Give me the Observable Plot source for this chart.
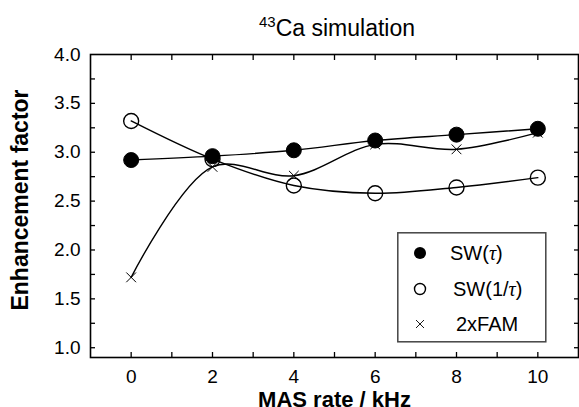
<!DOCTYPE html>
<html><head><meta charset="utf-8">
<script src="https://cdn.jsdelivr.net/npm/d3@7"></script>
<script src="https://cdn.jsdelivr.net/npm/@observablehq/plot@0.6"></script>
<style>
body{margin:0;background:#fff;font-family:"Liberation Sans",Arial,sans-serif;}
#wrap{position:relative;width:579px;height:407px;overflow:hidden;}
#chart{position:absolute;left:0;top:0;}
#title{position:absolute;left:95px;width:484px;top:13px;text-align:center;font-size:23px;color:#000;}
#title sup{font-size:15px;}
#legend{position:absolute;left:397px;top:232px;}
</style></head>
<body><div id="wrap"><div id="chart"></div><div id="title"><sup>43</sup>Ca simulation</div><div id="legend"></div></div>
<script>
const masRate = [0, 2, 4, 6, 8, 10];
const swTau = [2.92, 2.96, 3.02, 3.12, 3.18, 3.24];
const swInvTau = [3.32, 2.93, 2.66, 2.58, 2.64, 2.74];
const fam2x = [1.72, 2.85, 2.76, 3.08, 3.03, 3.20];
const xTickLabels = [0, 2, 4, 6, 8, 10];
const xMinorTicks = [0, 1, 2, 3, 4, 5, 6, 7, 8, 9, 10];
const yTickLabels = [1.0, 1.5, 2.0, 2.5, 3.0, 3.5, 4.0];
const yMinorTicks = [1.0, 1.25, 1.5, 1.75, 2.0, 2.25, 2.5, 2.75, 3.0, 3.25, 3.5, 3.75];
const seriesNames = ["SW(τ)", "SW(1/τ)", "2xFAM"];

const rows = (ys, name) => masRate.map((x, i) => ({x, y: ys[i], name}));
const dTau = rows(swTau, seriesNames[0]);
const dInv = rows(swInvTau, seriesNames[1]);
const dFam = rows(fam2x, seriesNames[2]);

const fs = 19;
const chart = Plot.plot({
  width: 579, height: 407,
  marginTop: 54, marginBottom: 50, marginLeft: 90, marginRight: 1,
  style: {fontFamily: '"Liberation Sans", Arial, sans-serif', color: "#000", background: "transparent"},
  x: {domain: [-1, 11]},
  y: {domain: [0.9, 4.0]},
  marks: [
    Plot.frame({stroke: "#000", strokeWidth: 1.6}),
    Plot.axisX(xMinorTicks, {anchor: "bottom", tickSize: -5, tickFormat: () => "", label: null, strokeWidth: 1.3}),
    Plot.axisX(xMinorTicks, {anchor: "top", tickSize: -5, tickFormat: () => "", label: null, strokeWidth: 1.3}),
    Plot.axisY(yMinorTicks, {anchor: "left", tickSize: -5, tickFormat: () => "", label: null, strokeWidth: 1.3}),
    Plot.axisY(yMinorTicks, {anchor: "right", tickSize: -5, tickFormat: () => "", label: null, strokeWidth: 1.3}),
    Plot.axisX(xTickLabels, {anchor: "bottom", tickSize: 0, tickPadding: 12, fontSize: fs, label: null}),
    Plot.axisY(yTickLabels, {anchor: "left", tickSize: 0, tickPadding: 10, fontSize: fs, label: null, tickFormat: d3.format(".1f")}),
    Plot.text(["MAS rate / kHz"], {frameAnchor: "bottom", dy: 42, lineAnchor: "middle", textAnchor: "middle", fontSize: 22, fontWeight: "bold"}),
    Plot.text(["Enhancement factor"], {frameAnchor: "left", dx: -70, dy: -6, rotate: -90, lineAnchor: "middle", textAnchor: "middle", fontSize: 23, fontWeight: "bold"}),
    Plot.line(dTau, {x: "x", y: "y", curve: "catmull-rom", stroke: "#000", strokeWidth: 1.4}),
    Plot.line(dInv, {x: "x", y: "y", curve: "catmull-rom", stroke: "#000", strokeWidth: 1.4}),
    Plot.line(dFam, {x: "x", y: "y", curve: "catmull-rom", stroke: "#000", strokeWidth: 1.4}),
    Plot.dot(dFam, {x: "x", y: "y", symbol: "times", r: 4.5, stroke: "#000", strokeWidth: 1}),
    Plot.dot(dInv, {x: "x", y: "y", symbol: "circle", r: 7.5, stroke: "#000", fill: "none", strokeWidth: 1.4}),
    Plot.dot(dTau, {x: "x", y: "y", symbol: "circle", r: 7.5, fill: "#000", stroke: "#000", strokeWidth: 1})
  ]
});
document.getElementById("chart").appendChild(chart);

// legend
const lg = d3.select("#legend").append("svg").attr("width", 150).attr("height", 112);
lg.append("rect").attr("x", 0.8).attr("y", 0.8).attr("width", 148).attr("height", 109)
  .attr("fill", "#fff").attr("stroke", "#444").attr("stroke-width", 1.5);
const rowY = [21, 57, 92];
lg.append("circle").attr("cx", 23).attr("cy", rowY[0]).attr("r", 6).attr("fill", "#000");
lg.append("circle").attr("cx", 23).attr("cy", rowY[1]).attr("r", 5.5).attr("fill", "none").attr("stroke", "#000").attr("stroke-width", 1.4);
lg.append("path").attr("d", `M19,${rowY[2]-4}L27,${rowY[2]+4}M19,${rowY[2]+4}L27,${rowY[2]-4}`).attr("stroke", "#000").attr("stroke-width", 0.9);
const labelParts = [["SW(", "τ", ")"], ["SW(1/", "τ", ")"], ["2xFAM", "", ""]];
const labelX = [53, 56, 59];
labelParts.forEach((p, i) => {
  const t = lg.append("text").attr("x", labelX[i]).attr("y", rowY[i]).attr("dy", "0.35em")
    .attr("font-size", 20).attr("font-family", '"Liberation Sans", Arial, sans-serif').attr("fill", "#000");
  t.append("tspan").text(p[0]);
  if (p[1]) t.append("tspan").attr("font-family", '"Liberation Serif", serif').attr("font-style", "italic").text(p[1]);
  if (p[2]) t.append("tspan").text(p[2]);
});
</script>
</body></html>
